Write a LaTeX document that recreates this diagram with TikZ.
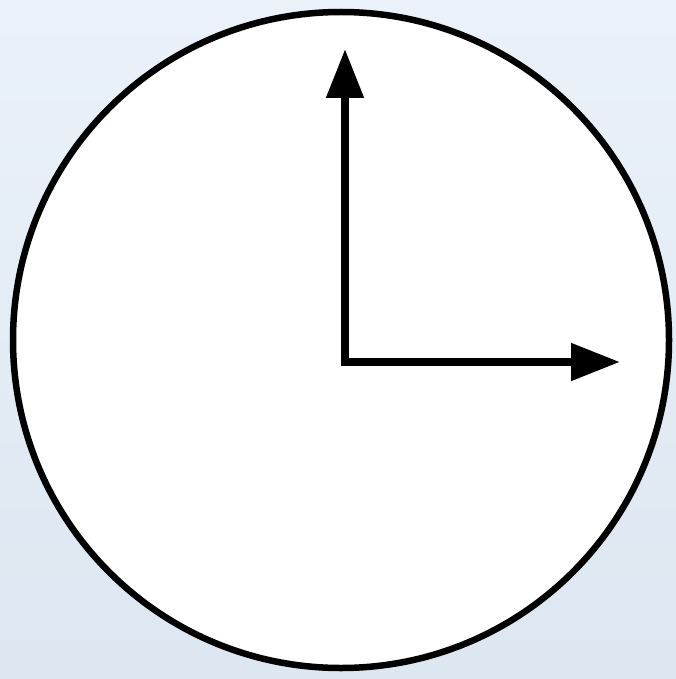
\documentclass[tikz,border=0pt]{standalone}
\usetikzlibrary{arrows.meta}
\definecolor{bgtop}{HTML}{EAF1F9}
\definecolor{bgbot}{HTML}{DDE7F1}
\begin{document}
\begin{tikzpicture}[x=1pt,y=-1pt,
  hand/.style={line width=8pt,-{Triangle[length=49pt,width=36pt]}}]
\shade[top color=bgtop,bottom color=bgbot] (0,0) rectangle (676,679);
\useasboundingbox (0,0) rectangle (676,679);
\draw[line width=6.5pt,fill=white] (341,340) circle[radius=328];
\coordinate (c) at (345,362);
\coordinate (n) at (345,49);
\coordinate (e) at (620,362);
\draw[hand] ([yshift=4pt]c) -- (n);
\draw[hand] ([xshift=-4pt]c) -- (e);
\end{tikzpicture}
\end{document}
